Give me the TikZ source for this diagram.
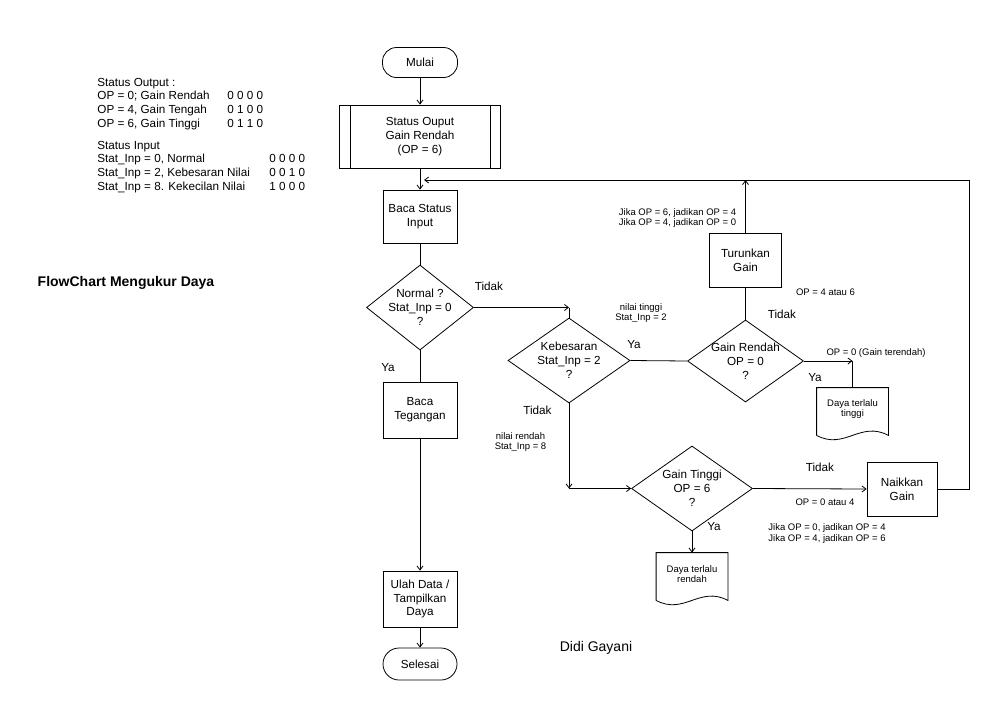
\documentclass[tikz,border=0pt]{standalone}
\usepackage{fontspec}
\setmainfont{Liberation Sans}
\usepackage{tikz}
\usetikzlibrary{arrows.meta,shapes.geometric,calc}
\newcommand{\docoutline}[1]{%
  \draw ([yshift=-5pt]#1.south west) -- (#1.north west) -- (#1.north east) -- ([yshift=-5pt]#1.south east)
    .. controls ([xshift=-28pt,yshift=10pt]#1.south east) and ([xshift=28pt,yshift=-20pt]#1.south west) .. ([yshift=-5pt]#1.south west);}

\begin{document}
\begin{tikzpicture}[
    x=1pt, y=-1pt,
    line width=0.8pt,
    txt/.style={font=\fontsize{11.7}{13.8}\selectfont, align=center, inner sep=0pt},
    note/.style={font=\fontsize{9.5}{10.7}\selectfont, align=center, inner sep=0pt},
    legend/.style={font=\fontsize{11.7}{13.7}\selectfont, inner sep=0pt, anchor=base west},
    big/.style={font=\fontsize{14}{16}\selectfont, inner sep=0pt},
    box/.style={draw, txt, minimum width=74pt, minimum height=54pt},
    term/.style={draw, txt, rounded corners=14pt, minimum width=75pt, minimum height=30pt},
    dec/.style={draw, diamond, inner sep=0pt, minimum width=#1, minimum height=85pt},
    docu/.style={note, minimum width=71pt, minimum height=42pt},
    arrow/.style={-{Straight Barb[length=4pt,width=6pt]}}
]
\useasboundingbox (0,0) rectangle (1000,712);

% keterangan status
\node[legend] (legout) at (97,86) {\begin{tabular}[t]{@{}p{130pt}@{}l@{}}
  Status Output : & \\
  OP = 0; Gain Rendah & 0 0 0 0\\
  OP = 4, Gain Tengah & 0 1 0 0\\
  OP = 6, Gain Tinggi & 0 1 1 0
\end{tabular}};
\node[legend] (legin) at (97,149) {\begin{tabular}[t]{@{}p{172pt}@{}l@{}}
  Status Input & \\
  Stat\_Inp = 0, Normal & 0 0 0 0\\
  Stat\_Inp = 2, Kebesaran Nilai & 0 0 1 0\\
  Stat\_Inp = 8. Kekecilan Nilai & 1 0 0 0
\end{tabular}};
\node[big, font=\fontsize{14}{16}\selectfont\bfseries] (judul) at (126,283) {FlowChart Mengukur Daya};
\node[big] (penulis) at (596,648) {Didi Gayani};

% alur utama
\node[term] (mulai) at (420,62.5) {Mulai};
\node[box, minimum width=161pt, minimum height=63pt] (statout) at (420,136.5) {Status Ouput\\Gain Rendah\\(OP = 6)};
\draw ([xshift=11pt]statout.north west) -- ([xshift=11pt]statout.south west);
\draw ([xshift=-11pt]statout.north east) -- ([xshift=-11pt]statout.south east);
\node[box, minimum height=53pt] (bacastat) at (420,216.5) {Baca Status\\Input};
\node[dec=107pt, label={[txt]center:Normal ?\\Stat\_Inp = 0\\?}] (normal) at (420,307.5) {};
\node[box, minimum height=56pt] (bacateg) at (420,410) {Baca\\Tegangan};
\node[box, minimum height=56pt] (olah) at (420,599) {Ulah Data /\\Tampilkan\\Daya};
\node[term, minimum width=74pt, minimum height=32pt, rounded corners=16pt] (selesai) at (420,664) {Selesai};

% cabang gain
\node[dec=122pt, label={[txt]center:Kebesaran\\Stat\_Inp = 2\\?}] (kebesaran) at (569,360.5) {};
\node[dec=116pt, minimum height=82pt, label={[txt]center:Gain Rendah\\OP = 0\\?}] (gainrendah) at (745.5,361) {};
\node[box, minimum width=72pt] (turunkan) at (745.5,260) {Turunkan\\Gain};
\node[docu] (dtinggi) at (852.5,409) {Daya terlalu\\tinggi};
\docoutline{dtinggi}
\node[dec=121pt, label={[txt]center:Gain Tinggi\\OP = 6\\?}] (gaintinggi) at (692,488.5) {};
\node[box, minimum width=70pt] (naikkan) at (902,489) {Naikkan\\Gain};
\node[docu] (drendah) at (692,574) {Daya terlalu\\rendah};
\docoutline{drendah}

% label
\node[txt] (tidakA) at (489,286) {Tidak};
\node[txt] (yaA) at (388,368) {Ya};
\node[note] (tinggiA) at (641,313) {nilai tinggi\\Stat\_Inp = 2};
\node[txt] (yaB) at (634,345) {Ya};
\node[txt] (tidakB) at (537.5,410) {Tidak};
\node[note] (rendahA) at (520.5,442) {nilai rendah\\Stat\_Inp = 8};
\node[note] (jikaA) at (677.5,218) {Jika OP = 6, jadikan OP = 4\\Jika OP = 4, jadikan OP = 0};
\node[note] (opA) at (825.5,292.5) {OP = 4 atau 6};
\node[txt] (tidakC) at (782,314) {Tidak};
\node[note] (opB) at (876,353.5) {OP = 0 (Gain terendah)};
\node[txt] (yaC) at (815,378) {Ya};
\node[txt] (tidakD) at (820,467) {Tidak};
\node[note] (opC) at (825,502.5) {OP = 0 atau 4};
\node[note] (jikaB) at (827,533.5) {Jika OP = 0, jadikan OP = 4\\Jika OP = 4, jadikan OP = 6};
\node[txt] (yaD) at (714,527) {Ya};

\coordinate (fbL) at (424,180);
\coordinate (fbR) at (969,180);
\coordinate (fbT) at (turunkan.north |- fbR);
\coordinate (kN) at (kebesaran.north |- normal.east);
\coordinate (kS) at (kebesaran.south |- gaintinggi.west);
\coordinate (rE) at (dtinggi.north |- gainrendah.east);

\draw[arrow] (mulai) -- (statout);
\draw[arrow] (statout) -- (bacastat);
\draw (bacastat) -- (normal);
\draw (normal) -- (bacateg);
\draw[arrow] (bacateg) -- (olah);
\draw[arrow] (olah) -- (selesai);
\draw[arrow] (normal.east) -- (kN);
\draw (kN) -- (kebesaran.north);
\draw (kebesaran.east) -- (gainrendah.west);
\draw (gainrendah.north) -- (turunkan.south);
\draw[arrow] (turunkan.north) -- (fbT);
\draw[arrow] (gainrendah.east) -- (rE);
\draw (rE) -- (dtinggi.north);
\draw[arrow] (kebesaran.south) -- (kS);
\draw[arrow] (kS) -- (gaintinggi.west);
\draw[arrow] (gaintinggi.east) -- (naikkan.west);
\draw[arrow] (gaintinggi.south) -- (drendah.north);
\draw[arrow] (naikkan.east) -| (fbR) -- (fbL);
\end{tikzpicture}
\end{document}
